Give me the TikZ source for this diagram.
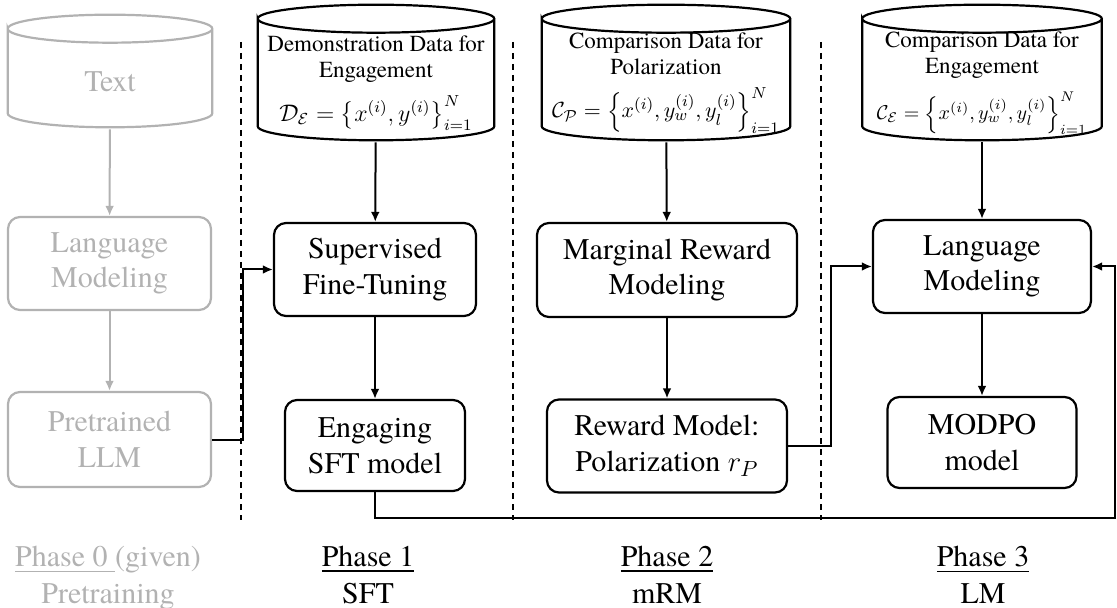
\documentclass[tikz,border=0pt]{standalone}
\usepackage{fontspec}
\setmainfont{texgyretermes}[Extension=.otf,UprightFont=*-regular,ItalicFont=*-italic,
                            BoldFont=*-bold,BoldItalicFont=*-bolditalic]
\usepackage{amsmath}
\usepackage{amssymb}
\usetikzlibrary{arrows.meta, calc, positioning}
\definecolor{faded}{RGB}{178,178,178}

\begin{document}
\begin{tikzpicture}[x=0.5pt,y=-0.5pt,>={Latex[length=5pt,width=4.4pt]},line width=1pt,
                    node distance=88pt,
                    main node/.style={rectangle,rounded corners=6pt,draw,line width=1.1pt,align=center,
                                      inner sep=0pt,font=\fontsize{15pt}{17.8pt}\selectfont},
                    data node/.style={rectangle,inner sep=0pt,
                      path picture={
                        \draw[line width=1.1pt]
                          let \p1=(path picture bounding box.north west),
                              \p2=(path picture bounding box.south east) in
                          (\x1+0.6pt,\y1-7.6pt)
                            arc[start angle=180,end angle=-180,x radius={(\x2-\x1)/2-0.6pt},y radius=7pt]
                          -- (\x1+0.6pt,\y2+7.6pt)
                            arc[start angle=180,end angle=360,x radius={(\x2-\x1)/2-0.6pt},y radius=7pt]
                          -- (\x2-0.6pt,\y1-7.6pt);
                      }},
                    data text/.style={align=center,inner sep=0pt,yshift=-5.25pt,
                                      font=\fontsize{11.5pt}{13.2pt}\selectfont},
                    phase node/.style={anchor=north,align=center,inner sep=0pt,
                                       font=\fontsize{15pt}{18.5pt}\selectfont},
                    faded node/.style={draw=faded,text=faded},
                    phase line/.style={line width=0.6pt,dash pattern=on 3pt off 2.5pt}]

  \useasboundingbox (0,0) rectangle (1117,608);

  \node[data node,color=faded,minimum width=103.5pt,minimum height=57.5pt,
        label={[data text,text=faded,font=\fontsize{15pt}{17.8pt}\selectfont]center:Text}] (1) at (110,71) {};
  \node[main node,faded node,minimum width=101.5pt,minimum height=46.5pt] (2) at (109.5,263.5) {Language\\Modeling};
  \node[main node,faded node,minimum width=101.5pt,minimum height=47.5pt] (3) [below of=2] {Pretrained\\LLM};

  \node[data node,minimum width=119.5pt,minimum height=69pt,
        label={[data text]center:{Demonstration Data for\\Engagement\\[5.5pt]
        $\mathcal{D}_{\mathcal{E}}=\left\{x^{(i)},y^{(i)}\right\}_{i=1}^{N}$}}] (4) at (376,72.5) {};
  \node[main node,minimum width=101pt,minimum height=46.5pt] (5) at (375,269.5) {Supervised\\Fine-Tuning};
  \node[main node,minimum width=90pt,minimum height=45.5pt] (6) [below of=5] {Engaging\\SFT model};

  \node[data node,minimum width=125.5pt,minimum height=69pt,
        label={[data text]center:{Comparison Data for\\Polarization\\[5.5pt]
        \fontsize{11pt}{13.2pt}\selectfont
        $\mathcal{C}_{\mathcal{P}}=\left\{x^{(i)},y_w^{(i)},y_l^{(i)}\right\}_{i=1}^{N}$}}] (7) at (666,72.5) {};
  \node[main node,minimum width=130pt,minimum height=47pt] (8) at (667,270) {Marginal Reward\\Modeling};
  \node[main node,minimum width=120pt,minimum height=46.5pt] (9) [below of=8] {Reward Model:\\Polarization $r_{P}$};

  \node[data node,minimum width=121pt,minimum height=69pt,
        label={[data text]center:{Comparison Data for\\Engagement\\[5.5pt]
        \fontsize{10.3pt}{13.2pt}\selectfont
        $\mathcal{C}_{\mathcal{E}}=\left\{x^{(i)},y_w^{(i)},y_l^{(i)}\right\}_{i=1}^{N}$}}] (10) at (982,72.5) {};
  \node[main node,minimum width=109pt,minimum height=46.5pt] (11) at (982,266.5) {Language\\Modeling};
  \node[main node,minimum width=94.5pt,minimum height=45.5pt] (12) [below of=11] {MODPO\\model};

  \coordinate (c) at (1115,518);

  \node[phase node,text=faded] (p0) at (108,545) {\underline{Phase 0\ }(given)\\Pretraining};
  \node[phase node] (p1) at (368,545) {\underline{Phase 1}\\SFT};
  \node[phase node] (p2) at (667,545) {\underline{Phase 2}\\mRM};
  \node[phase node] (p3) at (983,545) {\underline{Phase 3}\\LM};

  \draw[phase line] (241,42) -- (241,520);
  \draw[phase line] (513,42) -- (513,520);
  \draw[phase line] (821,42) -- (821,520);

  \draw[->,faded] (1) -- (2);
  \draw[->,faded] (2) -- (3);
  \draw[->] (3.east) -- ++(15.5pt,0) |- (5);
  \draw[->] (4) -- (5);
  \draw[->] (5) -- (6);
  \draw[->] (7) -- (8);
  \draw[->] (8) -- (9);
  \draw[->] (9.east) -- ++(21.5pt,0) |- (11);
  \draw[->] (10) -- (11);
  \draw[->] (11) -- (12);
  \draw[->] (6) |- (c) |- (11);

\end{tikzpicture}
\end{document}
